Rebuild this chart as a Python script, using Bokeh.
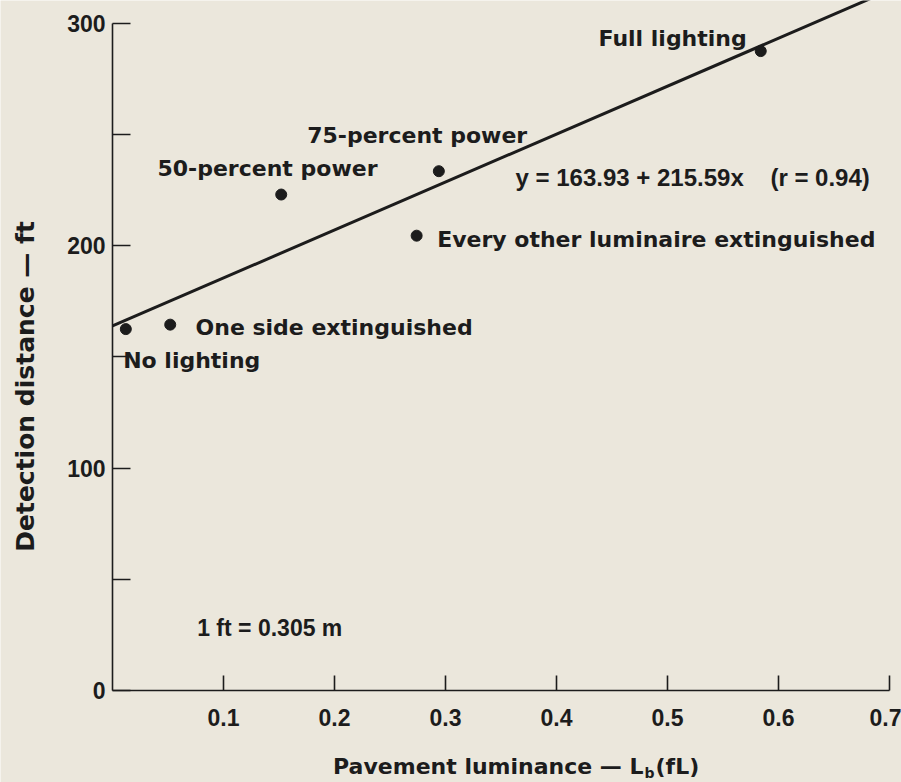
import math
from bokeh.plotting import figure
from bokeh.models import Range1d, FixedTicker, Label, LinearAxis
from bokeh.embed import file_html
from bokeh.resources import INLINE

# ---- data ----
point_names = ["No lighting", "One side extinguished", "50-percent power",
               "75-percent power", "Every other luminaire extinguished", "Full lighting"]
luminance = [0.012, 0.052, 0.152, 0.294, 0.274, 0.584]
distance = [162.5, 164.5, 223.0, 233.5, 204.5, 287.5]

fit_x = [0.0, 0.7]
fit_y = [163.93, 314.84]
equation_text = "y = 163.93 + 215.59x\u00a0\u00a0\u00a0\u00a0(r = 0.94)"
note_text = "1 ft = 0.305 m"

x_ticks = [0.1, 0.2, 0.3, 0.4, 0.5, 0.6, 0.7]
y_ticks = [0, 50, 100, 150, 200, 250, 300]
y_hidden = [50, 150, 250]

y_title = "Detection distance \u2014 ft"
x_title_main = "Pavement luminance \u2014 L"
x_title_sub = "b"
x_title_end = "(fL)"

# ---- styling ----
BG = "#ebe7dc"
INK = "#1c1c1c"
WORD_FONT = "DejaVu Sans"
NUM_FONT = "Liberation Sans"

# the frame covers the whole canvas; the axes sit at the data origin
p = figure(width=901, height=782, output_backend="svg", toolbar_location=None,
           x_range=Range1d(-0.100901, 0.710811), y_range=Range1d(-41.37, 310.25),
           x_axis_type=None, y_axis_type=None, min_border=0)
p.background_fill_color = BG
p.border_fill_color = BG
p.outline_line_color = None
p.grid.visible = False

xa = LinearAxis(fixed_location=0, ticker=FixedTicker(ticks=x_ticks), bounds=(0, 0.7))
ya = LinearAxis(fixed_location=0, ticker=FixedTicker(ticks=y_ticks), bounds=(0, 300))
for ax in (xa, ya):
    ax.axis_line_color = INK
    ax.axis_line_width = 1.6
    ax.major_tick_line_color = INK
    ax.major_tick_line_width = 1.6
    ax.minor_tick_line_color = None
    ax.major_tick_out = 0
    ax.major_label_text_font = NUM_FONT
    ax.major_label_text_font_style = "bold"
    ax.major_label_text_font_size = "23px"
    ax.major_label_text_color = INK
xa.major_tick_in = 15
xa.major_label_standoff = 19
ya.major_tick_in = 18
ya.major_label_standoff = 7
ya.major_label_overrides = {t: "" for t in y_hidden}
p.add_layout(xa, "below")
p.add_layout(ya, "left")

# regression line and points
p.line(fit_x, fit_y, line_width=3, line_color=INK)
p.scatter(luminance, distance, size=11, fill_color=INK, line_color=INK)

def put(text, x, y, font=WORD_FONT, size="22px", **kw):
    p.add_layout(Label(x=x, y=y, text=text, text_font=font, text_font_style="bold",
                       text_font_size=size, text_color=INK, text_baseline="middle", **kw))

# point labels (left x, vertical centre y) in data units
label_pos = {
    "No lighting": (0.0096, 148.4),
    "One side extinguished": (0.0748, 163.4),
    "50-percent power": (0.0405, 234.9),
    "75-percent power": (0.1754, 249.6),
    "Every other luminaire extinguished": (0.2925, 203.0),
    "Full lighting": (0.4378, 293.2),
}
for name in point_names:
    lx, ly = label_pos[name]
    put(name, lx, ly)

put(equation_text, 0.3631, 230.7, font=NUM_FONT, size="24px")
put(note_text, 0.0763, 27.9, font=NUM_FONT, size="23px")

# axis titles
put(y_title, -0.0788, 136.7, size="25px", text_align="center", angle=math.pi / 2)

xt_x = 0.4784
xt_y = -34.2
put(x_title_main, xt_x, xt_y, text_align="right")
put(x_title_sub, xt_x, xt_y, size="14px", y_offset=-6, x_offset=1, text_align="left")
put(x_title_end, xt_x, xt_y, x_offset=12, text_align="left")

open("out.html", "w").write(file_html(p, INLINE))
